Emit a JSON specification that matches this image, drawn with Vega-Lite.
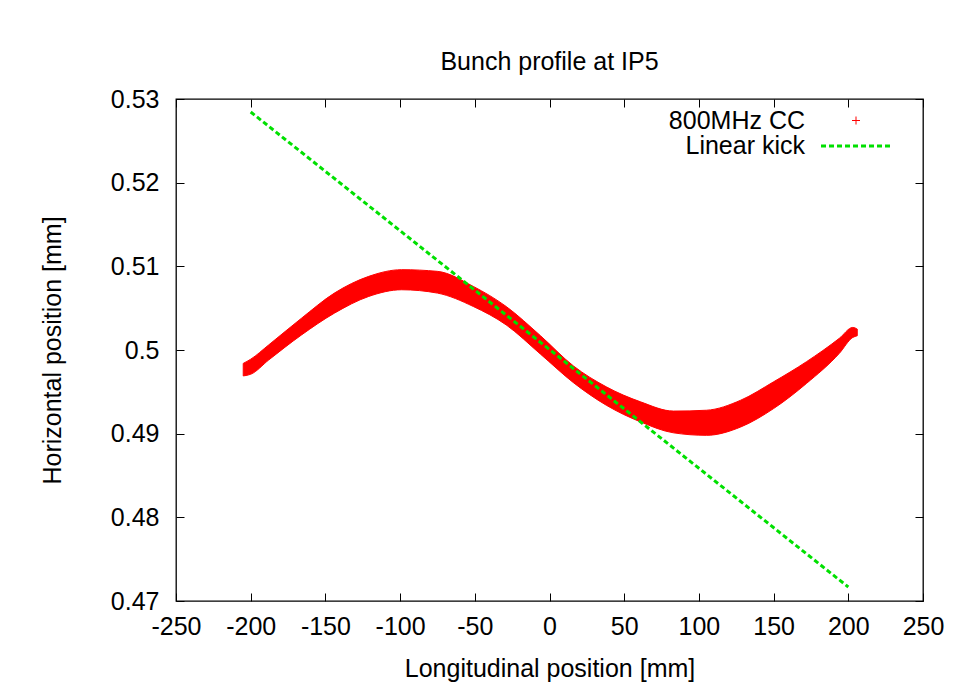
{
  "$schema": "https://vega.github.io/schema/vega-lite/v6.json",
  "width": 747,
  "height": 502,
  "autosize": {"type": "none"},
  "padding": {"left": 176, "top": 99, "right": 43, "bottom": 91},
  "background": "white",
  "title": {
    "text": "Bunch profile at IP5",
    "font": "Liberation Sans",
    "fontSize": 25,
    "fontWeight": "normal",
    "color": "#000000",
    "baseline": "alphabetic",
    "offset": 29,
    "dy": 37,
    "anchor": "middle",
    "frame": "group"
  },
  "config": {
    "view": {"stroke": "#000000", "strokeWidth": 1.3},
    "font": "Liberation Sans"
  },
  "datasets": {
    "band": [
      {"x": -205, "lo": 0.4969, "hi": 0.4984, "s": "800MHz CC"},
      {"x": -200, "lo": 0.4971, "hi": 0.4989, "s": "800MHz CC"},
      {"x": -188, "lo": 0.4988, "hi": 0.5006, "s": "800MHz CC"},
      {"x": -166, "lo": 0.5018, "hi": 0.5038, "s": "800MHz CC"},
      {"x": -144, "lo": 0.5044, "hi": 0.5068, "s": "800MHz CC"},
      {"x": -121, "lo": 0.5064, "hi": 0.5088, "s": "800MHz CC"},
      {"x": -99, "lo": 0.5072, "hi": 0.5096, "s": "800MHz CC"},
      {"x": -75, "lo": 0.5068, "hi": 0.5094, "s": "800MHz CC"},
      {"x": -51, "lo": 0.5052, "hi": 0.5076, "s": "800MHz CC"},
      {"x": -29, "lo": 0.5030, "hi": 0.5052, "s": "800MHz CC"},
      {"x": -6, "lo": 0.4995, "hi": 0.5017, "s": "800MHz CC"},
      {"x": 16, "lo": 0.4961, "hi": 0.4981, "s": "800MHz CC"},
      {"x": 38, "lo": 0.4934, "hi": 0.4956, "s": "800MHz CC"},
      {"x": 61, "lo": 0.4914, "hi": 0.4938, "s": "800MHz CC"},
      {"x": 83, "lo": 0.4901, "hi": 0.4927, "s": "800MHz CC"},
      {"x": 105, "lo": 0.4898, "hi": 0.4928, "s": "800MHz CC"},
      {"x": 128, "lo": 0.4908, "hi": 0.4940, "s": "800MHz CC"},
      {"x": 150, "lo": 0.4930, "hi": 0.4962, "s": "800MHz CC"},
      {"x": 172, "lo": 0.4960, "hi": 0.4986, "s": "800MHz CC"},
      {"x": 194, "lo": 0.4996, "hi": 0.5014, "s": "800MHz CC"},
      {"x": 203, "lo": 0.5015, "hi": 0.5027, "s": "800MHz CC"},
      {"x": 206, "lo": 0.5017, "hi": 0.5025, "s": "800MHz CC"}
    ],
    "kick": [
      {"x": -200, "y": 0.52845, "s": "Linear kick"},
      {"x": 200, "y": 0.47167, "s": "Linear kick"}
    ]
  },
  "layer": [
    {
      "data": {"name": "band"},
      "mark": {"type": "area", "interpolate": "monotone", "fill": "#ff0000", "strokeWidth": 1},
      "encoding": {
        "x": {
          "field": "x",
          "type": "quantitative",
          "scale": {"domain": [-250, 250], "nice": false, "zero": false},
          "axis": {
            "orient": "bottom",
            "values": [-250, -200, -150, -100, -50, 0, 50, 100, 150, 200, 250],
            "labelExpr": "replace(datum.label, '\u2212', '-')",
            "domain": false,
            "grid": false,
            "tickSize": -8,
            "tickColor": "#000000",
            "tickWidth": 1,
            "labelFlush": false,
            "labelOverlap": false,
            "labelFont": "Liberation Sans",
            "labelFontSize": 25,
            "labelColor": "#000000",
            "labelPadding": 21,
            "title": "Longitudinal position [mm]",
            "titleFont": "Liberation Sans",
            "titleFontSize": 25,
            "titleFontWeight": "normal",
            "titleColor": "#000000",
            "titlePadding": 17
          }
        },
        "y": {
          "field": "lo",
          "type": "quantitative",
          "scale": {"domain": [0.47, 0.53], "nice": false, "zero": false},
          "axis": {
            "orient": "left",
            "values": [0.47, 0.48, 0.49, 0.5, 0.51, 0.52, 0.53],
            "format": "~g",
            "domain": false,
            "grid": false,
            "tickSize": -8,
            "tickColor": "#000000",
            "tickWidth": 1,
            "labelFlush": false,
            "labelOverlap": false,
            "labelFont": "Liberation Sans",
            "labelFontSize": 25,
            "labelColor": "#000000",
            "labelPadding": 25,
            "title": "Horizontal position [mm]",
            "titleFont": "Liberation Sans",
            "titleFontSize": 25,
            "titleFontWeight": "normal",
            "titleColor": "#000000",
            "titlePadding": 45
          }
        },
        "y2": {"field": "hi"},
        "stroke": {
          "field": "s",
          "type": "nominal",
          "scale": {"domain": ["800MHz CC"], "range": ["#ff0000"]},
          "legend": {
            "orient": "none",
            "legendX": 667.5,
            "legendY": 9,
            "title": null,
            "padding": 0,
            "symbolType": "M-1,0H1M0,-1V1",
            "symbolSize": 64,
            "symbolStrokeWidth": 1,
            "symbolStrokeColor": "#ff0000",
            "symbolFillColor": "transparent",
            "symbolOpacity": 1,
            "labelFont": "Liberation Sans",
            "labelFontSize": 25,
            "labelColor": "#000000",
            "labelAlign": "right",
            "labelOffset": -63.5,
            "labelLimit": 400
          }
        }
      }
    },
    {
      "data": {"name": "kick"},
      "mark": {"type": "line", "strokeDash": [5, 3], "strokeWidth": 3},
      "encoding": {
        "x": {
          "field": "x",
          "type": "quantitative",
          "axis": {
            "orient": "top",
            "values": [-250, -200, -150, -100, -50, 0, 50, 100, 150, 200, 250],
            "domain": false,
            "grid": false,
            "labels": false,
            "title": null,
            "tickSize": -8,
            "tickColor": "#000000",
            "tickWidth": 1
          }
        },
        "y": {
          "field": "y",
          "type": "quantitative",
          "axis": {
            "orient": "right",
            "values": [0.47, 0.48, 0.49, 0.5, 0.51, 0.52, 0.53],
            "domain": false,
            "grid": false,
            "labels": false,
            "title": null,
            "tickSize": -8,
            "tickColor": "#000000",
            "tickWidth": 1
          }
        },
        "stroke": {
          "field": "s",
          "type": "nominal",
          "scale": {"domain": ["Linear kick"], "range": ["#00e000"]},
          "legend": {
            "orient": "none",
            "legendX": 643.5,
            "legendY": 10,
            "title": null,
            "padding": 0,
            "symbolType": "stroke",
            "symbolSize": 5041,
            "symbolStrokeWidth": 3,
            "symbolDash": [5, 3],
            "symbolOpacity": 1,
            "labelFont": "Liberation Sans",
            "labelFontSize": 25,
            "labelColor": "#000000",
            "labelAlign": "right",
            "labelOffset": -88.5,
            "labelLimit": 400
          }
        }
      }
    }
  ],
  "resolve": {
    "axis": {"x": "independent", "y": "independent"},
    "scale": {"stroke": "independent"},
    "legend": {"stroke": "independent"}
  }
}
